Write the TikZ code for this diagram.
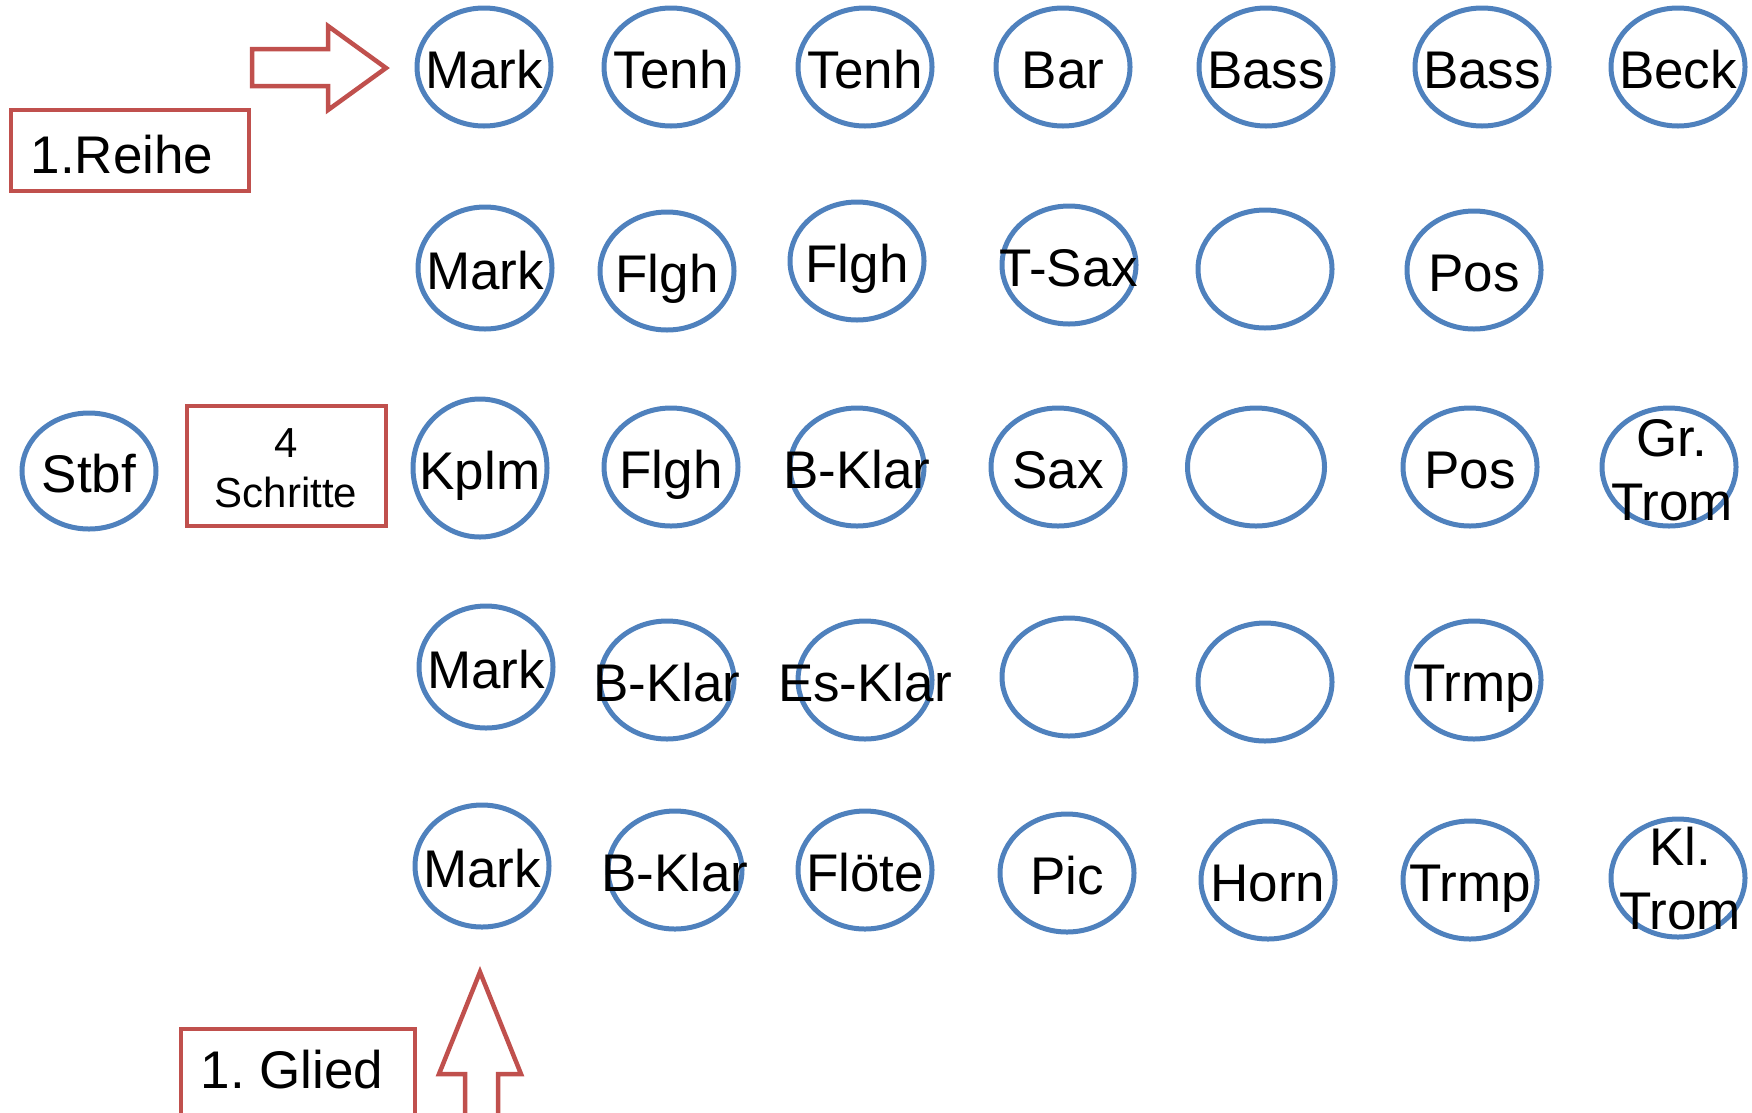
\documentclass[tikz,border=0pt]{standalone}
\usepackage{fontspec}
\setmainfont{Liberation Sans}
\usetikzlibrary{shapes.geometric}
\definecolor{ellblue}{RGB}{79,129,189}
\definecolor{boxred}{RGB}{192,80,77}
\tikzset{
  ell/.style={ellipse, draw=ellblue, line width=5pt, minimum width=134pt, minimum height=118pt, inner sep=0pt},
  lbl/.style={font=\fontsize{53}{65}\selectfont, text height=38pt, text depth=0pt, inner sep=0pt},
  lbltwo/.style={font=\fontsize{53}{64}\selectfont, align=center, inner sep=0pt, anchor=north},
  redbox/.style={draw=boxred, line width=4.5pt, line join=miter},
}
\newcommand\instr[4]{\node[ell] (#1) at (#2,#3) {}; \node[lbl] (#1t) at (#2,#3+2) {#4};}
\newcommand\instrh[5]{\node[ell, minimum height=#5] (#1) at (#2,#3) {}; \node[lbl] (#1t) at (#2,#3+2) {#4};}
\begin{document}
\begin{tikzpicture}[x=1pt,y=-1pt]
\useasboundingbox (0,0) rectangle (1752,1112);
\clip (0,0) rectangle (1752,1112);
% row 1
\instr{a1}{484}{67}{Mark}
\instr{a2}{671}{67}{Tenh}
\instr{a3}{865}{67}{Tenh}
\instr{a4}{1063}{67}{Bar}
\instr{a5}{1266}{67}{Bass}
\instr{a6}{1482}{67}{Bass}
\instr{a7}{1678}{67}{Beck}
% row 2
\instrh{b1}{485}{268}{Mark}{122pt}
\instr{b2}{667}{271}{Flgh}
\instr{b3}{857}{261}{Flgh}
\instr{b4}{1069}{265}{T-Sax}
\node[ell] (b5) at (1265,269) {};
\instr{b6}{1474}{270}{Pos}
% row 3
\instrh{c0}{89}{471}{Stbf}{116pt}
\instrh{c1}{480}{468}{Kplm}{138pt}
\instr{c2}{671}{467}{Flgh}
\instr{c3}{857}{467}{B-Klar}
\instr{c4}{1058}{467}{Sax}
\node[ell, minimum width=137pt] (c5) at (1256,467) {};
\instr{c6}{1470}{467}{Pos}
\node[ell] (c7) at (1669,467) {};
\node[lbltwo] (c7t) at (1672,419) {Gr.\\Trom};
% row 4
\instrh{d1}{486}{667}{Mark}{122pt}
\instr{d2}{667}{680}{B-Klar}
\instr{d3}{865}{680}{Es-Klar}
\node[ell] (d4) at (1069,677) {};
\node[ell] (d5) at (1265,682) {};
\instr{d6}{1474}{680}{Trmp}
% row 5
\instrh{e1}{482}{866}{Mark}{122pt}
\instr{e2}{675}{870}{B-Klar}
\instr{e3}{865}{870}{Flöte}
\instr{e4}{1067}{873}{Pic}
\instr{e5}{1268}{880}{Horn}
\instr{e6}{1470}{880}{Trmp}
\node[ell] (e7) at (1678,878) {};
\node[lbltwo] (e7t) at (1680,827) {Kl.\\Trom};
% boxes
\draw[redbox] (11,110) rectangle (249,191);
\node[lbl] (reihe) at (122,154) {1.Reihe};
\draw[redbox] (187,406) rectangle (386,526);
\node[font=\fontsize{42}{50}\selectfont, align=center, inner sep=0pt, anchor=north] (schritte) at (286,428) {4\\Schritte};
\draw[redbox] (181,1029) rectangle (415,1130);
\node[lbl] (glied) at (292,1069) {1.\ Glied};
% arrows
\draw[redbox] (252,49) -- (328,49) -- (328,26) -- (386,68) -- (328,110) -- (328,86) -- (252,86) -- cycle;
\draw[redbox] (480,972) -- (521,1074) -- (498,1074) -- (498,1130) -- (465,1130) -- (465,1074) -- (439,1074) -- cycle;
\end{tikzpicture}
\end{document}
